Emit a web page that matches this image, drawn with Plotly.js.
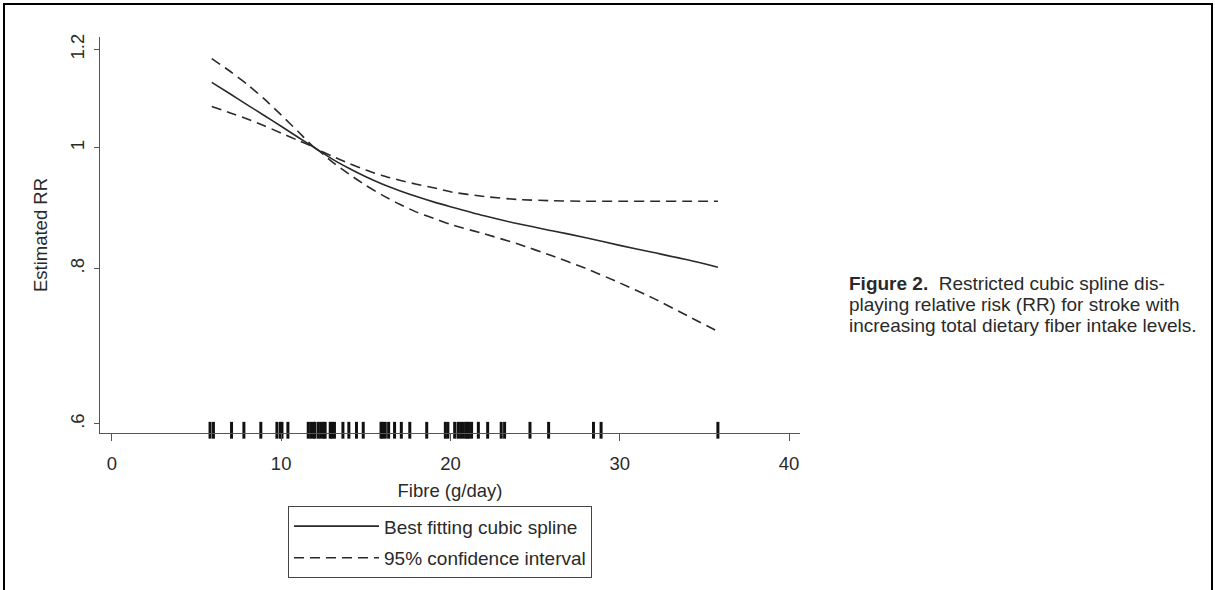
<!DOCTYPE html>
<html>
<head>
<meta charset="utf-8">
<script src="https://cdn.plot.ly/plotly-3.0.1.min.js"></script>
<style>
  html, body { margin: 0; padding: 0; background: #fff; overflow: hidden; }
  #wrap { position: relative; width: 1215px; height: 590px; }
  #chart { position: absolute; left: 0; top: 0; width: 1215px; height: 590px; }
  #frame { position: absolute; left: 3px; top: 3px; width: 1206px; height: 620px;
           border: 2px solid #000; border-bottom: none; pointer-events: none; }
</style>
</head>
<body>
<div id="wrap">
  <div id="chart"></div>
  <div id="frame"></div>
</div>
<script>
// ---- data ----
const fibre   = [5.9, 7, 8, 9, 10, 11, 12, 13, 14, 15, 16, 17, 18, 19, 20, 22, 24, 26, 28, 30, 32, 34, 35.8];
const rrFit   = [1.129, 1.105, 1.083, 1.062, 1.041, 1.020, 1.000, 0.980, 0.963, 0.948, 0.935, 0.924, 0.914, 0.905, 0.897, 0.882, 0.869, 0.858, 0.847, 0.835, 0.824, 0.813, 0.802];
const rrUpper = [1.180, 1.152, 1.125, 1.095, 1.063, 1.031, 1.000, 0.985, 0.972, 0.960, 0.950, 0.942, 0.935, 0.929, 0.922, 0.914, 0.909, 0.907, 0.906, 0.906, 0.906, 0.906, 0.906];
const rrLower = [1.080, 1.067, 1.055, 1.042, 1.028, 1.014, 1.000, 0.975, 0.953, 0.933, 0.916, 0.901, 0.888, 0.878, 0.868, 0.853, 0.837, 0.819, 0.800, 0.779, 0.757, 0.733, 0.712];
const rugFibre = [5.8, 6.0, 7.07, 7.8, 8.8, 9.75, 9.95, 10.05, 10.4, 11.6, 11.75, 11.9, 12.0, 12.2, 12.35, 12.5, 12.6, 12.9, 13.0, 13.15, 13.65, 14.0, 14.45, 14.85, 15.9, 16.0, 16.15, 16.35, 16.7, 17.1, 17.6, 18.6, 19.7, 19.85, 20.25, 20.45, 20.6, 20.75, 20.9, 21.0, 21.1, 21.25, 21.65, 22.2, 23.0, 23.2, 24.7, 25.8, 28.45, 28.9, 35.8];
const xTicks = [0, 10, 20, 30, 40];
const yTicks = [0.6, 0.8, 1, 1.2];
const yTickText = ['.6', '.8', '1', '1.2'];
const legendNames = ['Best fitting cubic spline', '95% confidence interval'];
const captionLines = ['<b>Figure 2.</b>\u00a0 Restricted cubic spline dis-',
                      'playing relative risk (RR) for stroke with',
                      'increasing total dietary fiber intake levels.'];

// ---- styling ----
const FONT = 'Arial, "Liberation Sans", Helvetica, sans-serif';
const INK = '#2a2a2a';
const AXIS = '#555';
const rugLevel = 0.593;
const captionY = [0.378, 0.325, 0.272];

const traces = [
  { x: fibre, y: rrFit, type: 'scatter', mode: 'lines', name: legendNames[0],
    legendgroup: 'fit', line: { color: INK, width: 1.6, shape: 'spline', smoothing: 0.8 } },
  { x: fibre, y: rrUpper, type: 'scatter', mode: 'lines', name: legendNames[1],
    legendgroup: 'ci', line: { color: INK, width: 1.6, dash: '10px,6px', shape: 'spline', smoothing: 0.6 } },
  { x: fibre, y: rrLower, type: 'scatter', mode: 'lines', name: legendNames[1],
    legendgroup: 'ci', showlegend: false, line: { color: INK, width: 1.6, dash: '10px,6px', shape: 'spline', smoothing: 0.6 } },
  { x: rugFibre, y: rugFibre.map(() => rugLevel), type: 'scatter', mode: 'markers',
    showlegend: false, cliponaxis: false, hoverinfo: 'x',
    marker: { symbol: 'line-ns', size: 12, color: '#111', line: { color: '#111', width: 3 } } }
];

const annotations = captionLines.map((t, i) => ({
  xref: 'paper', yref: 'paper', x: 1.067, y: captionY[i],
  xanchor: 'left', yanchor: 'middle', align: 'left', showarrow: false,
  text: t, font: { family: FONT, size: 19, color: INK }
}));

const layout = {
  width: 1215, height: 590,
  margin: { l: 100, r: 415, t: 37, b: 153 },
  paper_bgcolor: '#fff', plot_bgcolor: '#fff',
  font: { family: FONT, size: 18, color: INK },
  showlegend: true,
  xaxis: {
    range: [-0.7, 40.65], tickvals: xTicks, ticks: 'outside', ticklen: 7,
    tickcolor: AXIS, showline: true, linecolor: AXIS, linewidth: 1,
    showgrid: false, zeroline: false, ticklabelstandoff: 7,
    tickfont: { family: FONT, size: 18.5, color: INK },
    title: { text: 'Fibre (g/day)', font: { family: FONT, size: 18.5, color: INK }, standoff: 10 }
  },
  yaxis: {
    type: 'log', range: [Math.log10(0.590), Math.log10(1.228)],
    tickvals: yTicks, ticktext: yTickText, tickangle: -90,
    ticks: 'outside', ticklen: 5, tickcolor: AXIS, showline: true, linecolor: AXIS, linewidth: 1,
    showgrid: false, zeroline: false, ticklabelstandoff: 3,
    tickfont: { family: FONT, size: 18.5, color: INK },
    title: { text: 'Estimated RR', font: { family: FONT, size: 18.5, color: INK }, standoff: 14 }
  },
  legend: {
    x: 0.2686, y: -0.185, xanchor: 'left', yanchor: 'top',
    bordercolor: '#444', borderwidth: 1, bgcolor: '#fff',
    font: { family: FONT, size: 19, color: INK },
    traceorder: 'grouped', tracegroupgap: 4, itemwidth: 85
  },
  annotations: annotations
};

Plotly.newPlot('chart', traces, layout, { displayModeBar: false, staticPlot: true });
</script>
</body>
</html>
